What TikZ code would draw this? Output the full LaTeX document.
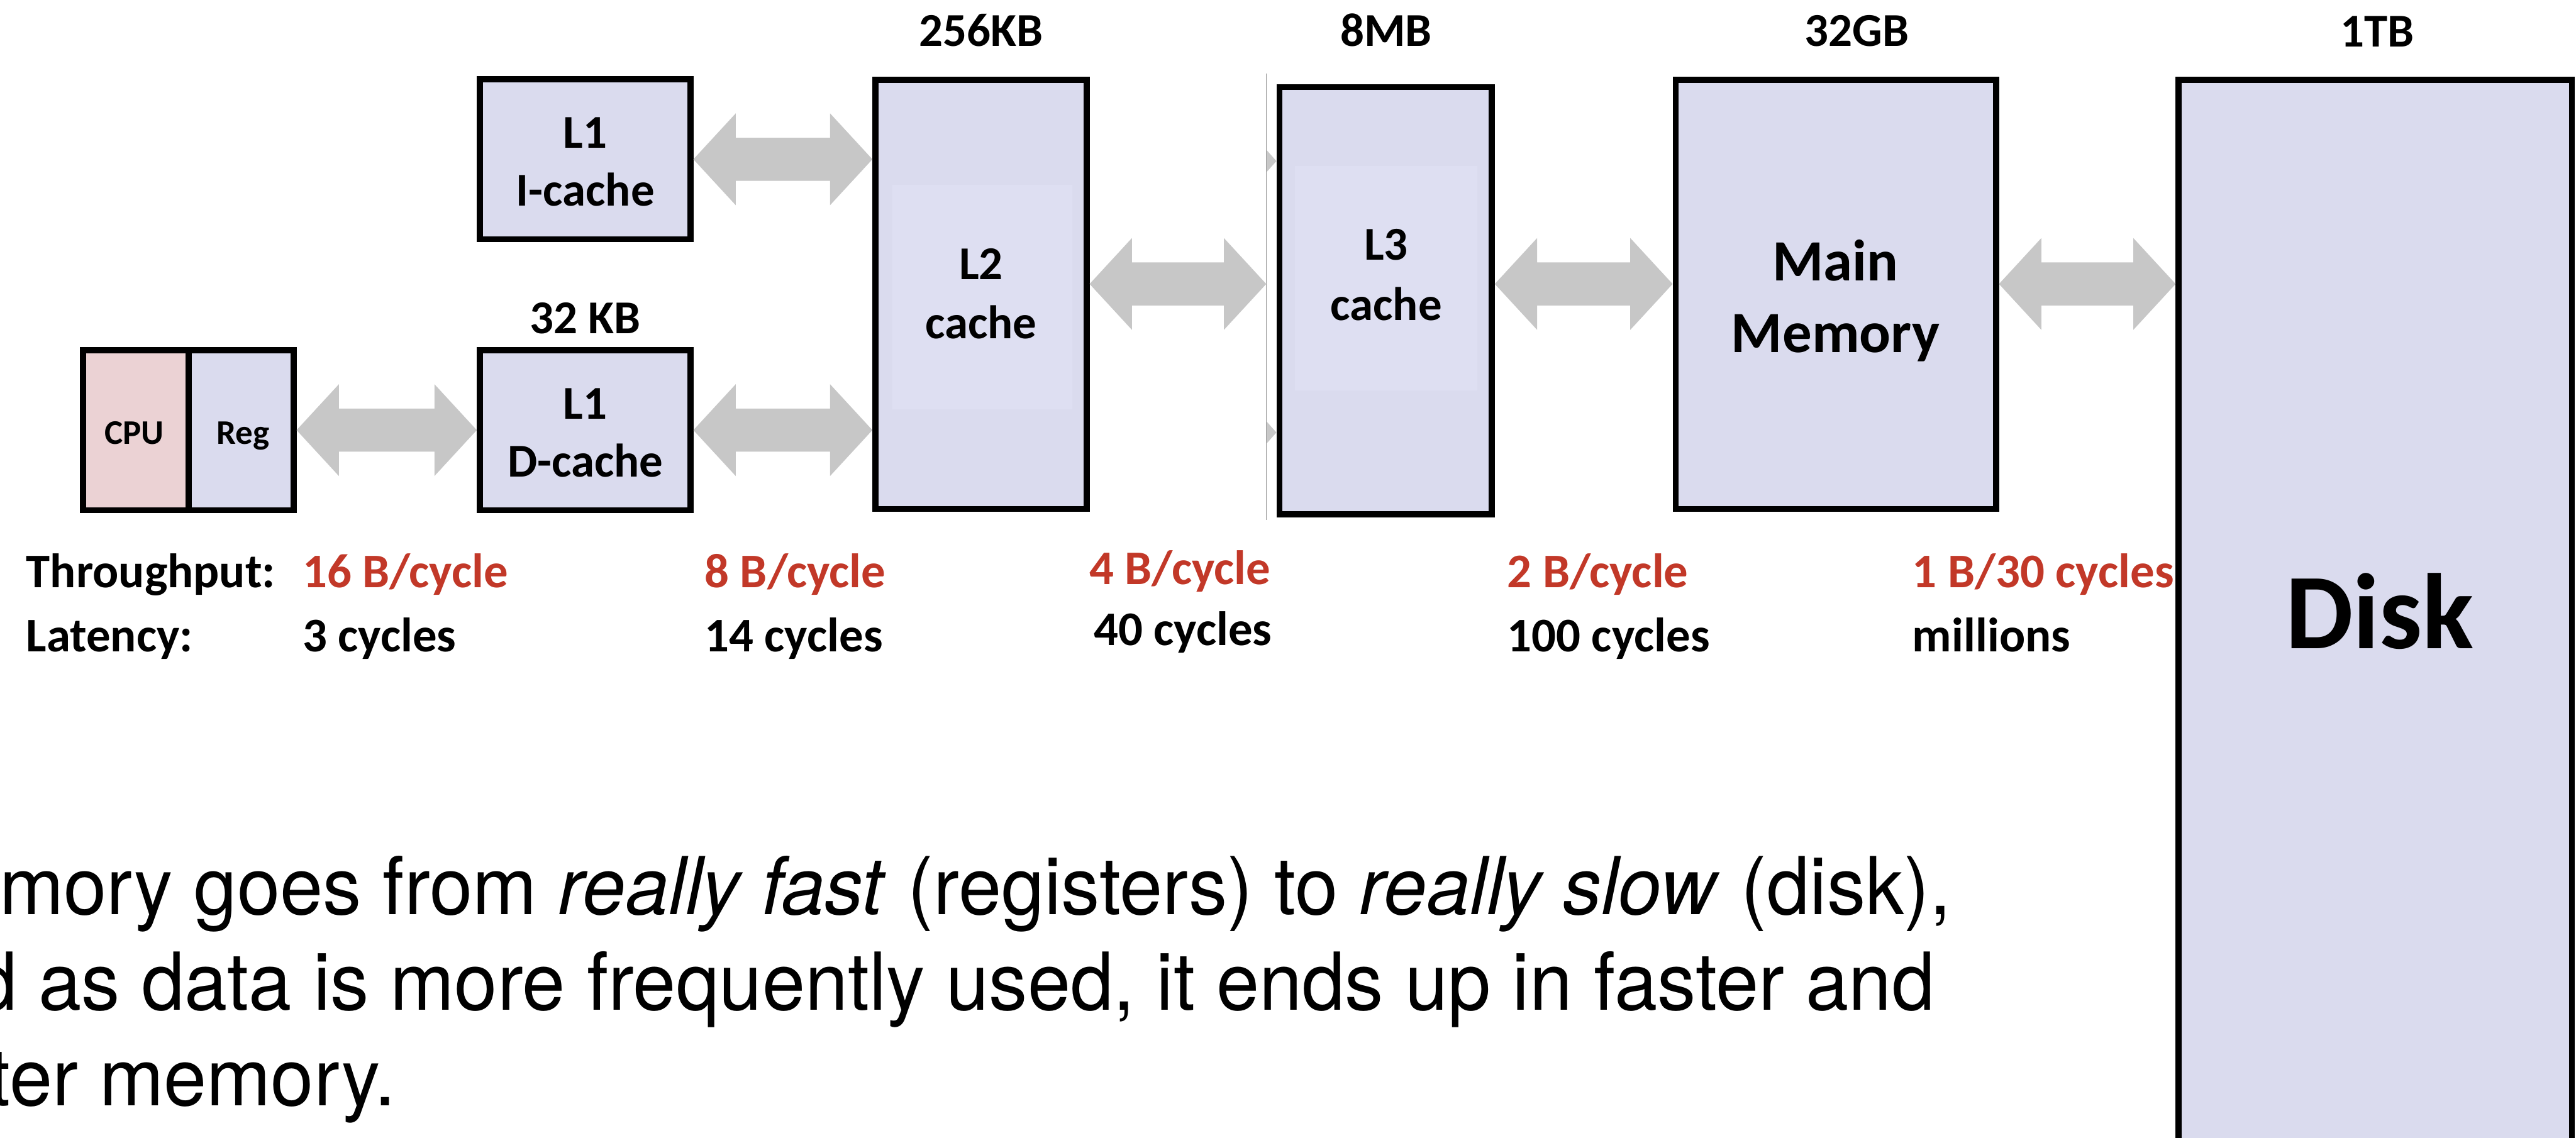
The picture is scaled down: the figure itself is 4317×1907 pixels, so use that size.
\documentclass[tikz,border=0pt]{standalone}
\usepackage{fontspec}
\setmainfont{Carlito}
\newfontfamily\bodyfont[FakeStretch=0.965]{TeX Gyre Heros}
\usetikzlibrary{calc}

\definecolor{boxfill}{RGB}{218,219,238}
\definecolor{boxinner}{RGB}{222,223,242}
\definecolor{cpufill}{RGB}{235,210,212}
\definecolor{arrowgray}{RGB}{199,199,199}
\definecolor{seamgray}{RGB}{150,150,150}
\definecolor{rate}{RGB}{194,56,40}

\newcommand{\sizefont}{\bfseries\fontsize{7.9}{9}\selectfont}
\newcommand{\unitfont}{\bfseries\fontsize{7.9}{9}\selectfont}
\newcommand{\smallunitfont}{\bfseries\fontsize{5.8}{7}\selectfont}
\newcommand{\mainfontbig}{\bfseries\fontsize{9.8}{11}\selectfont}
\newcommand{\diskfont}{\bfseries\fontsize{18}{20}\selectfont}
\newcommand{\ratefont}{\bfseries\fontsize{8.1}{10}\selectfont}
\newcommand{\bodytextfont}{\bodyfont\fontsize{13.4}{16}\selectfont}

% grey two-headed bus arrow between two points on the same level
\newcommand{\busarrow}[2]{%
  \fill[arrowgray] let \p1=(#1), \p2=(#2) in
    (\x1,\y1) -- (\x1+7.1pt,\y1+7.7pt) -- (\x1+7.1pt,\y1+3.6pt)
    -- (\x2-7.1pt,\y1+3.6pt) -- (\x2-7.1pt,\y1+7.7pt) -- (\x2,\y1)
    -- (\x2-7.1pt,\y1-7.7pt) -- (\x2-7.1pt,\y1-3.6pt)
    -- (\x1+7.1pt,\y1-3.6pt) -- (\x1+7.1pt,\y1-7.7pt) -- cycle;}

\tikzset{
  membox/.style={rectangle, draw=black, line width=1pt, fill=boxfill, inner sep=0pt},
  cpubox/.style={membox, fill=cpufill},
  boxtext/.style={inner sep=0pt, anchor=base, font=\unitfont},
  sizetext/.style={inner sep=0pt, anchor=base, font=\sizefont},
  ratetext/.style={inner sep=0pt, anchor=base west, font=\ratefont, text=rate},
  lattext/.style={inner sep=0pt, anchor=base west, font=\ratefont},
  bodyline/.style={inner sep=0pt, anchor=base west, font=\bodytextfont},
}

\begin{document}
\begin{tikzpicture}[x=0.1pt, y=-0.1pt]
\useasboundingbox (0,0) rectangle (4317,1907);
\clip (0,0) rectangle (4317,1907);
\fill[white] (0,0) rectangle (4317,1907);

% ---- memory boxes ----
\node[cpubox, minimum width=17.7pt, minimum height=26.8pt] (cpu) at (227.5,721) {};
\node[membox, minimum width=17.6pt, minimum height=26.8pt] (reg) at (404,721) {};
\node[membox, minimum width=35.3pt, minimum height=26.8pt] (icache) at (980.5,267) {};
\node[membox, minimum width=35.3pt, minimum height=26.8pt] (dcache) at (980.5,721) {};
\node[membox, minimum width=35.4pt, minimum height=71.9pt] (l2) at (1644,493.5) {};
\node[membox, minimum width=35.6pt, minimum height=71.6pt] (l3) at (2322,504) {};
\node[membox, minimum width=53.7pt, minimum height=71.9pt] (main) at (3076.5,493.5) {};
\node[membox, minimum width=65.9pt, minimum height=196.6pt] (disk) at (3980.5,1117) {};

% lighter panels inside the L2 and L3 boxes
\fill[boxinner] (1496,310) rectangle (1797,686);
\fill[boxinner] (2170,278) rectangle (2476,654);

% seam line in front of the L3 box
\coordinate (seamtop) at (2122,123);
\coordinate (seambot) at (2122,872);
\draw[seamgray, line width=0.15pt] (seamtop) -- (seambot);

% ---- bus arrows ----
\coordinate (upper) at (0,267);
\coordinate (lower) at (0,721);
\coordinate (mid) at (0,476);
\busarrow{reg.east}{dcache.west}
\busarrow{dcache.east}{l2.west |- lower}
\busarrow{icache.east}{l2.west |- upper}
\busarrow{l2.east |- mid}{seamtop |- mid}
\busarrow{l3.east |- mid}{main.west |- mid}
\busarrow{main.east |- mid}{disk.west |- mid}
% arrow tips showing between the seam and the L3 box
\fill[arrowgray] (2123,252) -- (2139,270) -- (2123,288) -- cycle;
\fill[arrowgray] (2123,707) -- (2139,725) -- (2123,743) -- cycle;

% ---- box labels ----
\node[boxtext, font=\smallunitfont] (cputext) at (225,745) {CPU};
\node[boxtext, font=\smallunitfont] (regtext) at (407,745) {Reg};
\node[boxtext] (ione) at (981,248) {L1};
\node[boxtext] (itwo) at (981,345) {I-cache};
\node[boxtext] (done) at (981,702) {L1};
\node[boxtext] (dtwo) at (981,799) {D-cache};
\node[boxtext] (ltwoa) at (1644,468) {L2};
\node[boxtext] (ltwob) at (1644,568) {cache};
\node[boxtext] (lthreea) at (2323,436) {L3};
\node[boxtext] (lthreeb) at (2323,537) {cache};
\node[boxtext, font=\mainfontbig] (maina) at (3076,471) {Main};
\node[boxtext, font=\mainfontbig] (mainb) at (3076,591) {Memory};
\node[boxtext, font=\diskfont] (disktext) at (3988,1087) {Disk};

% ---- capacities ----
\node[sizetext] (szl1) at (981,559) {32 KB};
\node[sizetext] (szl2) at (1644,77) {256KB};
\node[sizetext] (szl3) at (2323,77) {8MB};
\node[sizetext] (szmain) at (3112,77) {32GB};
\node[sizetext] (szdisk) at (3984,78) {1TB};

% ---- throughput and latency ----
\node[lattext] (thr) at (42,985) {Throughput:};
\node[lattext] (lat) at (42,1092) {Latency:};
\node[ratetext] (r1) at (505,985) {16 B/cycle};
\node[ratetext] (r2) at (1179,985) {8 B/cycle};
\node[ratetext] (r3) at (1824,980) {4 B/cycle};
\node[ratetext] (r4) at (2524,985) {2 B/cycle};
\node[ratetext] (r5) at (3203,985) {1 B/30 cycles};
\node[lattext] (t1) at (505,1092) {3 cycles};
\node[lattext] (t2) at (1179,1092) {14 cycles};
\node[lattext] (t3) at (1831,1082) {40 cycles};
\node[lattext] (t4) at (2524,1092) {100 cycles};
\node[lattext] (t5) at (3203,1092) {millions};

% ---- caption text ----
\node[bodyline] (capa) at (-3,1533) {mory goes from \textit{really fast} (registers) to \textit{really slow} (disk),};
\node[bodyline] (capb) at (-45,1693) {d as data is more frequently used, it ends up in faster and};
\node[bodyline] (capc) at (-20,1853) {ter memory.};
\end{tikzpicture}
\end{document}
